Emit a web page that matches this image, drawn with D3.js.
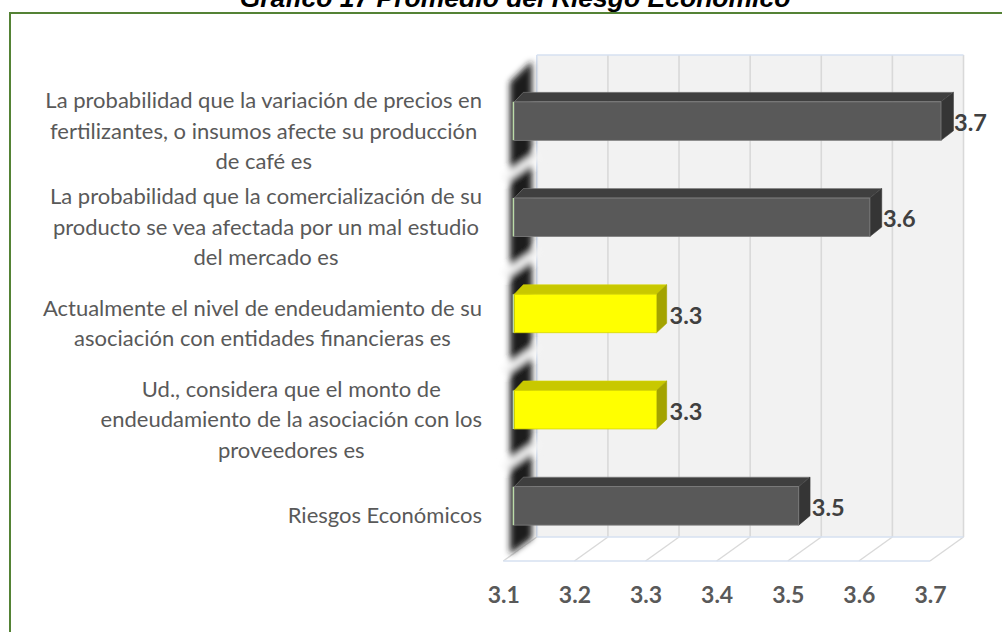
<!DOCTYPE html>
<html>
<head>
<meta charset="utf-8">
<script src="https://cdn.jsdelivr.net/npm/d3@7"></script>
<style>
  body { margin: 0; background: #fff; }
  svg { display: block; }
</style>
</head>
<body>
<script>
// data
const categories = ['precios', 'comercializacion', 'entidades', 'proveedores', 'riesgos'];
const labelLines = [
  ['La probabilidad que la variación de precios en', 'fertilizantes, o insumos afecte su producción', 'de café es'],
  ['La probabilidad que la comercialización de su', 'producto se vea afectada por un mal estudio', 'del mercado es'],
  ['Actualmente el nivel de endeudamiento de su', 'asociación con entidades financieras es'],
  ['Ud., considera que el monto de', 'endeudamiento de la asociación con los', 'proveedores es'],
  ['Riesgos Económicos']
];
const values = [3.7, 3.6, 3.3, 3.3, 3.5];
const tickValues = [3.1, 3.2, 3.3, 3.4, 3.5, 3.6, 3.7];
const title = 'Gráfico 17 Promedio del Riesgo Económico';

const W = 1002, H = 632;
const svg = d3.select('body').append('svg')
    .attr('width', W)
    .attr('height', H);

const defs = svg.append('defs');
defs.append('filter').attr('id', 'blur')
    .attr('x', '-50%').attr('y', '-10%').attr('width', '200%').attr('height', '120%')
  .append('feGaussianBlur').attr('stdDeviation', 3);

// title (cut by the top of the picture, as in the original)
svg.append('text')
    .attr('x', 515)
    .attr('y', 7)
    .attr('text-anchor', 'middle')
    .style('font-family', 'Liberation Sans, Arial, sans-serif')
    .style('font-weight', 'bold')
    .style('font-style', 'italic')
    .style('font-size', '26.5px')
    .text(title);

// green frame
svg.append('rect')
    .attr('x', 10).attr('y', 13)
    .attr('width', 1010).attr('height', 640)
    .attr('fill', 'none')
    .attr('stroke', '#548235')
    .attr('stroke-width', 2);

// 3d geometry
const depthX = 33.5, depthY = -24;
const floorY = 561;
const wallTop = floorY + depthY - 482;

const x = d3.scaleLinear().domain([3.1, 3.7]).range([503.3, 930]);
const xBack = v => x(v) + depthX;
const xBar = v => x(v) + 11;

const y = d3.scaleBand()
    .domain(categories)
    .range([73, 554])
    .paddingInner(0.6)
    .paddingOuter(0.3);

const color = d3.scaleThreshold()
    .domain([3.4])
    .range([
      { front: '#ffff00', top: '#c8c800', side: '#a3a300', edge: '#d6d600' },
      { front: '#595959', top: '#3f3f3f', side: '#353535', edge: '#7f7f7f' }
    ]);

const pts = a => a.map(p => p.join(',')).join(' ');

// back wall
svg.append('rect')
    .attr('x', xBack(3.1))
    .attr('y', wallTop)
    .attr('width', xBack(3.7) - xBack(3.1))
    .attr('height', floorY + depthY - wallTop)
    .attr('fill', '#f2f2f2');

svg.append('g')
  .selectAll('line')
  .data(tickValues)
  .join('line')
    .attr('x1', d => xBack(d)).attr('x2', d => xBack(d))
    .attr('y1', wallTop).attr('y2', floorY + depthY)
    .attr('stroke', (d, i) => i === 0 ? '#d6e0f0' : '#d9d9d9')
    .attr('stroke-width', 1.6);

svg.append('line')
    .attr('x1', xBack(3.1)).attr('x2', xBack(3.7))
    .attr('y1', wallTop).attr('y2', wallTop)
    .attr('stroke', '#d6e0f0').attr('stroke-width', 1.6);

// floor
svg.append('polygon')
    .attr('points', pts([[x(3.1), floorY], [x(3.7), floorY], [xBack(3.7), floorY + depthY], [xBack(3.1), floorY + depthY]]))
    .attr('fill', '#fff');

svg.append('g')
  .selectAll('line')
  .data(tickValues)
  .join('line')
    .attr('x1', d => x(d)).attr('y1', floorY)
    .attr('x2', d => xBack(d)).attr('y2', floorY + depthY)
    .attr('stroke', '#d9d9d9')
    .attr('stroke-width', 1.4);

svg.append('line')
    .attr('x1', xBack(3.1)).attr('x2', xBack(3.7))
    .attr('y1', floorY + depthY).attr('y2', floorY + depthY)
    .attr('stroke', '#d6e0f0').attr('stroke-width', 1.6);

svg.append('line')
    .attr('x1', x(3.1)).attr('x2', x(3.7))
    .attr('y1', floorY).attr('y2', floorY)
    .attr('stroke', '#d6e0f0').attr('stroke-width', 1.6);

// dark side wall, blurred
const wall = svg.append('g').attr('filter', 'url(#blur)');
wall.append('polygon')
    .attr('points', pts([[510, 82], [532, 61], [532, 538], [510, 554]]))
    .attr('fill', '#1e1e1e');

const step = y.step(), bw = y.bandwidth();
const bounds = categories.slice(0, -1).map(c => y(c) + bw + (step - bw) / 2);
wall.selectAll('line')
  .data(bounds)
  .join('line')
    .attr('x1', 504).attr('y1', d => d + 10)
    .attr('x2', 540).attr('y2', d => d - 15)
    .attr('stroke', '#f4f4f4')
    .attr('stroke-width', 8);

// bars
const bars = svg.append('g')
  .selectAll('g')
  .data(values.map((v, i) => ({ v, c: categories[i] })))
  .join('g');

const dxAt = xx => 9 + (xx - xBar(3.1)) * 0.008;
const dy = 9.5;

bars.append('polygon')
    .attr('points', d => {
      const x0 = xBar(3.1), x1 = xBar(d.v), y0 = y(d.c);
      return pts([[x0, y0], [x1, y0], [x1 + dxAt(x1), y0 - dy], [x0 + dxAt(x0), y0 - dy]]);
    })
    .attr('fill', d => color(d.v).top)
    .attr('stroke', d => color(d.v).edge)
    .attr('stroke-width', 0.6);

bars.append('polygon')
    .attr('points', d => {
      const x1 = xBar(d.v), y0 = y(d.c), y1 = y0 + bw;
      return pts([[x1, y0], [x1 + dxAt(x1), y0 - dy], [x1 + dxAt(x1), y1 - dy], [x1, y1]]);
    })
    .attr('fill', d => color(d.v).side)
    .attr('stroke', d => color(d.v).side)
    .attr('stroke-width', 0.6);

bars.append('rect')
    .attr('x', xBar(3.1))
    .attr('y', d => y(d.c))
    .attr('width', d => xBar(d.v) - xBar(3.1))
    .attr('height', bw)
    .attr('fill', d => color(d.v).front)
    .attr('stroke', d => color(d.v).edge)
    .attr('stroke-width', 0.8);

bars.append('line')
    .attr('x1', xBar(3.1) - 1).attr('x2', xBar(3.1) - 1)
    .attr('y1', d => y(d.c)).attr('y2', d => y(d.c) + bw)
    .attr('stroke', '#c9ecb4').attr('stroke-width', 1.2);

// data labels
bars.append('text')
    .attr('x', d => xBar(d.v) + 13)
    .attr('y', d => y(d.c) + bw / 2 + 1)
    .attr('dominant-baseline', 'central')
    .style('font-family', 'Lato, sans-serif')
    .style('font-weight', 'bold')
    .style('font-size', '23.5px')
    .attr('fill', '#404040')
    .text(d => d3.format('.1f')(d.v));

// category labels, wrapped and centred, right side on the axis
const labelRight = 482, lineH = 30.5;
const lab = svg.append('g')
    .style('font-family', 'Lato, sans-serif')
    .style('font-size', '22px')
    .attr('fill', '#595959');

labelLines.forEach((lines, i) => {
  const g = lab.append('g');
  const cy = y(categories[i]) + bw / 2 + 9;
  const t = g.selectAll('text')
    .data(lines)
    .join('text')
      .attr('text-anchor', 'middle')
      .attr('dominant-baseline', 'central')
      .attr('y', (d, j) => cy + (j - (lines.length - 1) / 2) * lineH)
      .text(d => d);
  const wmax = d3.max(t.nodes(), n => n.getComputedTextLength());
  t.attr('x', labelRight - wmax / 2);
});

// x axis labels
const axis = svg.append('g')
    .attr('transform', `translate(0,${floorY + 24})`)
    .call(d3.axisBottom(x).tickValues(tickValues).tickSize(0).tickFormat(d3.format('.1f')));
axis.select('.domain').remove();
axis.selectAll('text')
    .attr('dy', null)
    .attr('y', 0)
    .attr('dominant-baseline', 'hanging')
    .style('font-family', 'Lato, sans-serif')
    .style('font-weight', 'bold')
    .style('font-size', '23px')
    .attr('fill', '#595959');
</script>
</body>
</html>
